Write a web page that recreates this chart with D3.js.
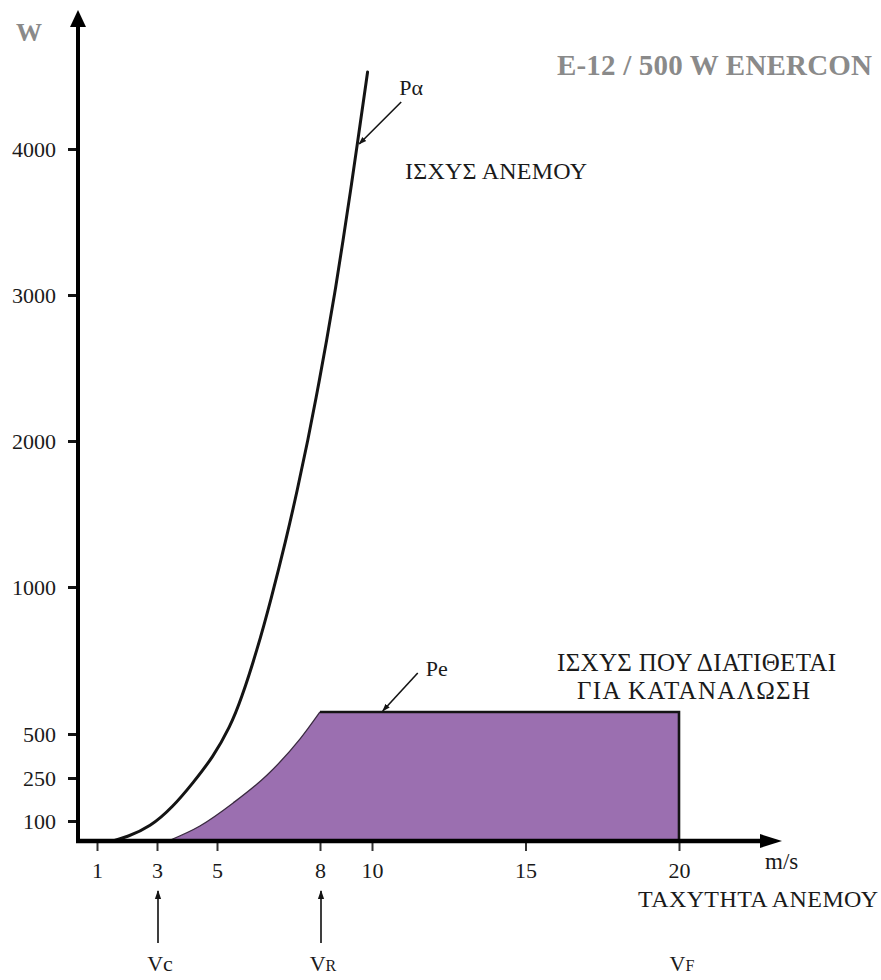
<!DOCTYPE html>
<html>
<head>
<meta charset="utf-8">
<script src="https://cdn.jsdelivr.net/npm/d3@7"></script>
<style>
  html, body { margin: 0; padding: 0; background: #ffffff; }
  svg { display: block; }
  text { font-family: "Liberation Serif", "Times New Roman", serif; }
</style>
</head>
<body>
<svg id="chart" width="881" height="980"></svg>
<script>
// Axis ticks: wind speed (m/s) and power (W)
const speedTicks = [1, 3, 5, 8, 10, 15, 20];
const powerTicks = [100, 250, 500, 1000, 2000, 3000, 4000];

// Pα — power contained in the wind
const paSpeed = [1.5, 2.0, 2.77, 3.53, 4.2, 4.87, 5.38, 5.7, 6.17, 6.57, 7.01, 7.34, 7.65, 7.93, 8.26, 8.59, 8.89, 9.18, 9.43, 9.83];
const paPower = [0, 20, 70, 149, 233, 369, 524, 616, 786, 956, 1322, 1664, 2007, 2349, 2692, 3034, 3377, 3719, 4027, 4527];

// Pe — power available for consumption (rises to rated level, cut-out at 20 m/s)
const peSpeed = [3.37, 4.43, 5.47, 6.46, 7.42, 8.0, 20];
const pePower = [0, 75, 163, 267, 472, 575, 575];

// Characteristic speeds: cut-in, rated, cut-out
const markSpeeds = [3, 8, 20];
const markSubs = ["c", "R", "F"];
const markArrows = [true, true, false];

const svg = d3.select("#chart");
const ink = "#141414";
const textInk = "#1a1a1a";
const grey = "#8a8a8a";
const fillPurple = "#9b6fb0";

// Hand-drawn axes use non-uniform spacing, so both scales are polylinear
const x = d3.scaleLinear().domain([1, 5, 8, 10, 20]).range([97, 217, 320, 372, 679]);
const y = d3.scaleLinear().domain([0, 100, 250, 500, 1000, 4000]).range([841, 821, 778, 734, 587, 149]);

const axisX = 78;     // vertical axis line
const axisY = 841;    // horizontal axis line

// Arrowhead marker for annotation pointers
const defs = svg.append("defs");
defs.append("marker")
  .attr("id", "head")
  .attr("viewBox", "0 0 10 10")
  .attr("refX", 9).attr("refY", 5)
  .attr("markerWidth", 5).attr("markerHeight", 5)
  .attr("markerUnits", "strokeWidth")
  .attr("orient", "auto")
  .append("path").attr("d", "M0,1.5 L10,5 L0,8.5 Z").attr("fill", ink);

// Pe filled area
const rise = peSpeed.slice(0, 6).map((v, i) => [x(v), y(pePower[i])]);
const riseLine = d3.line().curve(d3.curveMonotoneX);
const last = peSpeed.length - 1;
const peOutline = riseLine(rise) + "L" + x(peSpeed[last]) + "," + y(pePower[last]) +
  "L" + x(peSpeed[last]) + "," + y(0);
svg.append("path")
  .attr("d", peOutline + "Z")
  .attr("fill", fillPurple)
  .attr("stroke", "none");
// thin edge on the rising part, heavier edge on plateau and cut-out drop
svg.append("path")
  .attr("d", riseLine(rise))
  .attr("fill", "none").attr("stroke", "#3a2a40").attr("stroke-width", 1.3);
svg.append("path")
  .attr("d", "M" + x(peSpeed[5]) + "," + y(pePower[5]) + "L" + x(peSpeed[last]) + "," + y(pePower[last]) +
    "L" + x(peSpeed[last]) + "," + y(0))
  .attr("fill", "none").attr("stroke", ink).attr("stroke-width", 2.6)
  .attr("stroke-linejoin", "miter");

// Pα curve (B-spline through the sampled readings for a smooth pen line)
const paLine = d3.line().x(d => x(d[0])).y(d => y(d[1])).curve(d3.curveBasis);
svg.append("path")
  .attr("d", paLine(paSpeed.map((v, i) => [v, paPower[i]])))
  .attr("fill", "none").attr("stroke", ink).attr("stroke-width", 3)
  .attr("stroke-linecap", "round");

// Vertical axis with ticks
const yAxis = d3.axisLeft(y).tickValues(powerTicks).tickSize(8).tickPadding(12).tickFormat(d3.format("d"));
const gy = svg.append("g").attr("transform", `translate(${axisX - 2},0)`).call(yAxis);
gy.select(".domain").remove();
gy.selectAll(".tick line").attr("stroke", ink).attr("stroke-width", 3);
gy.selectAll(".tick text")
  .style("font-family", "'Liberation Serif', serif")
  .attr("font-size", 22).attr("fill", textInk).attr("dy", "0.34em");

// Horizontal axis with ticks
const xAxis = d3.axisBottom(x).tickValues(speedTicks).tickSize(8).tickFormat(d3.format("d"));
const gx = svg.append("g").attr("transform", `translate(0,${axisY + 2})`).call(xAxis);
gx.select(".domain").remove();
gx.selectAll(".tick line").attr("stroke", "#333").attr("stroke-width", 2);
gx.selectAll(".tick text")
  .style("font-family", "'Liberation Serif', serif")
  .attr("font-size", 22).attr("fill", textInk)
  .attr("y", 35).attr("dy", 0);

// Axis lines with arrowheads
svg.append("line")
  .attr("x1", axisX).attr("y1", axisY + 2).attr("x2", axisX).attr("y2", 24)
  .attr("stroke", "#000").attr("stroke-width", 4);
svg.append("path")
  .attr("d", `M${axisX},10 L${axisX + 8},27 L${axisX - 8},27 Z`).attr("fill", "#000");
svg.append("line")
  .attr("x1", axisX - 2).attr("y1", axisY).attr("x2", 764).attr("y2", axisY)
  .attr("stroke", "#000").attr("stroke-width", 4.5);
svg.append("path")
  .attr("d", `M782,${axisY} L760,${axisY - 7} L760,${axisY + 7} Z`).attr("fill", "#000");

// Axis unit labels
svg.append("text").attr("x", 16).attr("y", 41)
  .attr("font-size", 26).attr("font-weight", "bold").attr("fill", grey).text("W");
svg.append("text").attr("x", 765).attr("y", 869)
  .attr("font-size", 23).attr("fill", textInk).text("m/s");
svg.append("text").attr("x", 638).attr("y", 907)
  .attr("font-size", 24).attr("fill", textInk)
  .attr("textLength", 240).attr("lengthAdjust", "spacing").text("ΤΑΧΥΤΗΤΑ ΑΝΕΜΟΥ");

// Title
svg.append("text").attr("x", 557).attr("y", 75)
  .attr("font-size", 29).attr("font-weight", "bold").attr("fill", grey)
  .attr("textLength", 315).attr("lengthAdjust", "spacing")
  .text("E-12 / 500 W ENERCON");

// Curve captions
svg.append("text").attr("x", 405).attr("y", 179)
  .attr("font-size", 24).attr("fill", textInk)
  .attr("textLength", 182).attr("lengthAdjust", "spacing").text("ΙΣΧΥΣ ΑΝΕΜΟΥ");
svg.append("text").attr("x", 557).attr("y", 671)
  .attr("font-size", 25).attr("fill", textInk)
  .attr("textLength", 279).attr("lengthAdjust", "spacing").text("ΙΣΧΥΣ ΠΟΥ ΔΙΑΤΙΘΕΤΑΙ");
svg.append("text").attr("x", 577).attr("y", 699)
  .attr("font-size", 25).attr("fill", textInk)
  .attr("textLength", 233).attr("lengthAdjust", "spacing").text("ΓΙΑ ΚΑΤΑΝΑΛΩΣΗ");

// Pα pointer (tip on the curve)
const paTip = [x(paSpeed[18]), y(paPower[18])];
svg.append("line")
  .attr("x1", paTip[0] + 44).attr("y1", paTip[1] - 43)
  .attr("x2", paTip[0] + 2).attr("y2", paTip[1] - 1)
  .attr("stroke", ink).attr("stroke-width", 1.6).attr("marker-end", "url(#head)");
svg.append("text").attr("x", paTip[0] + 42).attr("y", paTip[1] - 50)
  .attr("font-size", 22).attr("fill", textInk).text("Pα");

// Pe pointer (tip on the plateau)
const peTip = [x(10.35), y(pePower[5])];
svg.append("line")
  .attr("x1", peTip[0] + 35).attr("y1", peTip[1] - 39)
  .attr("x2", peTip[0]).attr("y2", peTip[1] - 1)
  .attr("stroke", ink).attr("stroke-width", 1.6).attr("marker-end", "url(#head)");
svg.append("text").attr("x", peTip[0] + 43).attr("y", peTip[1] - 36)
  .attr("font-size", 22).attr("fill", textInk).text("Pe");

// Characteristic speed markers
markSpeeds.forEach((v, i) => {
  const cx = x(v) + 1;
  if (markArrows[i]) {
    svg.append("line")
      .attr("x1", cx).attr("y1", 943).attr("x2", cx).attr("y2", 891)
      .attr("stroke", "#2a2a2a").attr("stroke-width", 1.8).attr("marker-end", "url(#head)");
  }
  const t = svg.append("text").attr("x", cx + 2).attr("y", 971)
    .attr("text-anchor", "middle").attr("font-size", 22).attr("fill", textInk);
  t.append("tspan").text("V");
  t.append("tspan").attr("font-size", markSubs[i] === "c" ? 22 : 16).text(markSubs[i]);
});
</script>
</body>
</html>
